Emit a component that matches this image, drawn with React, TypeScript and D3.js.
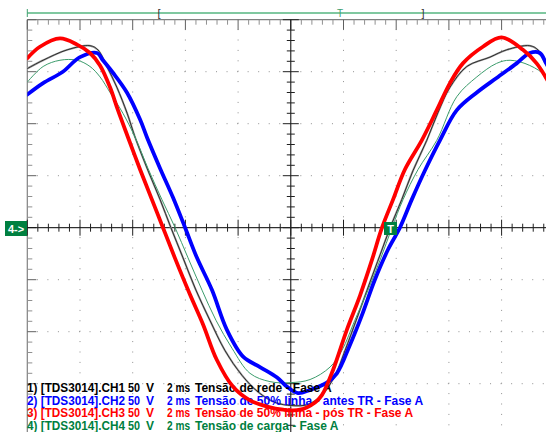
import React from 'react';
import * as d3 from 'd3';

const W = 546;
const H = 432;

// time (ms) and voltage (V), 2 ms/div, 50 V/div
const ch1T = [0, 0.6, 1.51, 2.38, 2.68, 3.02, 3.4, 3.79, 4.09, 4.58, 5.04, 5.45, 5.91, 6.4, 6.93, 7.5, 8.15, 8.76, 9.4, 10.04, 10.65, 11.18, 11.68, 12.06, 12.51, 13.01, 13.39, 13.77, 14.21, 14.64, 15.16, 15.59, 16.04, 16.68, 17.56, 18.19, 19.07, 19.38, 19.69, 20];
const ch1V = [153, 161, 171, 175, 171, 155, 135, 110, 87, 55, 27, 0, -29, -60, -89, -118, -142, -158, -168, -171, -170, -161, -142, -118, -87, -52, -26, 0, 27, 55, 84, 111, 135, 155, 164, 171, 175, 171, 158, 142];

const ch2T = [0, 0.6, 1.35, 2.0, 2.65, 2.87, 3.25, 3.78, 4.28, 4.54, 5.04, 5.53, 5.99, 6.44, 7.01, 7.57, 8.19, 8.83, 9.48, 9.86, 10.27, 10.73, 11.37, 11.75, 12.24, 12.7, 13.19, 13.69, 14.14, 14.59, 15.09, 15.66, 16.3, 17.06, 17.81, 18.57, 19.07, 19.45, 19.69, 20];
const ch2V = [128, 139, 150, 164, 168, 161, 149, 130, 104, 87, 57, 29, 0, -29, -60, -98, -124, -134, -144, -153, -159, -156, -149, -140, -113, -84, -50, -21, 0, 27, 55, 84, 113, 130, 144, 158, 168, 168, 158, 144];

const ch3T = [0, 0.48, 1.24, 1.89, 2.38, 2.76, 3.14, 3.44, 3.82, 4.28, 4.73, 5.15, 5.6, 6.17, 6.67, 7.19, 7.81, 8.45, 9.1, 9.71, 10.35, 10.92, 11.18, 11.6, 12.13, 12.63, 13.08, 13.46, 13.88, 14.33, 14.97, 15.54, 16.04, 16.53, 17.29, 18.0, 18.81, 19.33, 19.69, 20];
const ch3V = [163, 174, 182, 176, 168, 156, 135, 113, 87, 56, 27, 0, -29, -64, -93, -127, -153, -166, -172, -175, -175, -168, -161, -137, -98, -65, -31, 0, 27, 56, 84, 113, 139, 158, 174, 183, 171, 158, 144, 130];

const ch4T = [0, 0.6, 1.24, 1.89, 2.38, 2.76, 3.14, 3.63, 4.09, 4.58, 5.11, 5.61, 6.1, 6.63, 7.16, 7.77, 8.45, 9.21, 9.97, 10.73, 11.49, 11.94, 12.43, 12.93, 13.39, 13.84, 14.26, 14.83, 15.54, 16.3, 17.06, 17.81, 18.32, 19.07, 19.69, 20];
const ch4V = [140, 155, 161, 161, 155, 145, 130, 110, 87, 57, 27, 0, -29, -60, -89, -116, -140, -148, -149, -146, -134, -118, -89, -60, -31, 0, 27, 56, 84, 126, 145, 158, 161, 156, 145, 125];

const labelPrefix = ['1) [TDS3014].CH1', '2) [TDS3014].CH2', '3) [TDS3014].CH3', '4) [TDS3014].CH4'];
const labelDesc = [
  'Tensão de rede - Fase A',
  'Tensão de 50% linha - antes TR - Fase A',
  'Tensão de 50% linha - pós TR - Fase A',
  'Tensão de carga - Fase A',
];
const labelColors = ['#000000', '#0000ff', '#ff0000', '#008040'];

const x = d3.scaleLinear().domain([0, 20]).range([27.3, 554.3]);
const y = d3.scaleLinear().domain([-200, 200]).range([435.7, 19.7]);

function toPts(t: number[], v: number[]) {
  return t.map((d, i) => [d, v[i]] as [number, number]);
}

const line = d3
  .line<[number, number]>()
  .x(d => x(d[0]))
  .y(d => y(d[1]))
  .curve(d3.curveCatmullRom.alpha(0.5));

export default function App() {
  const minorT = d3.range(0, 20.001, 0.4);
  const majorT = d3.range(0, 20.001, 2);
  const minorV = d3.range(-200, 200.001, 10);
  const majorV = d3.range(-200, 200.001, 50);
  const x0 = x(0);
  const xc = x(10);
  const yc = y(0);
  const yTop = y(200);
  const font = 'Liberation Sans, Arial, sans-serif';

  return (
    <div style={{ position: 'absolute', left: 0, top: 0 }}>
      <svg width={W} height={H} style={{ display: 'block', background: '#fff' }}>
        <defs>
          <clipPath id="plot">
            <rect x={x0} y={yTop} width={W - x0} height={H - yTop} />
          </clipPath>
        </defs>

        {/* top marker bar */}
        <line x1={x0} x2={W} y1={13} y2={13} stroke="#80c8a0" strokeWidth={2} />
        <line x1={x0} x2={x0} y1={9} y2={17} stroke="#40a070" strokeWidth={1} />
        <text x={159} y={17} fontFamily={font} fontSize={11} fill="#333" textAnchor="middle">[</text>
        <text x={423} y={17} fontFamily={font} fontSize={11} fill="#333" textAnchor="middle">]</text>
        <text x={340} y={17} fontFamily={font} fontSize={10} fill="#40a070" textAnchor="middle">T</text>

        {/* dotted grid */}
        {majorT.slice(1).filter(t => t !== 10).map(t => (
          <line key={'gv' + t} x1={x(t)} x2={x(t)} y1={yTop} y2={H} stroke="#909090"
            strokeWidth={1} strokeDasharray="1,9.4" strokeDashoffset={-9.4} />
        ))}
        {majorV.filter(v => v !== 0 && v !== 200).map(v => (
          <line key={'gh' + v} x1={x0} x2={W} y1={y(v)} y2={y(v)} stroke="#909090"
            strokeWidth={1} strokeDasharray="1,9.54" strokeDashoffset={-9.54} />
        ))}

        {/* frame */}
        <line x1={x0} x2={W} y1={yTop} y2={yTop} stroke="#808080" strokeWidth={1.2} />
        <line x1={x0} x2={x0} y1={yTop} y2={H} stroke="#808080" strokeWidth={1.2} />
        {minorT.map(t => {
          const major = Math.abs(t / 2 - Math.round(t / 2)) < 1e-6;
          return (
            <line key={'tt' + t} x1={x(t)} x2={x(t)} y1={yTop} y2={yTop + (major ? 10 : 5)}
              stroke={major ? '#606060' : '#909090'} strokeWidth={1} />
          );
        })}
        {minorV.map(v => {
          const major = v % 50 === 0;
          return (
            <line key={'lt' + v} x1={x0} x2={x0 + (major ? 9 : 5)} y1={y(v)} y2={y(v)}
              stroke={major ? '#606060' : '#909090'} strokeWidth={1} />
          );
        })}

        {/* center axes */}
        <line x1={xc} x2={xc} y1={yTop} y2={H} stroke="#000" strokeWidth={1} />
        <line x1={x0} x2={W} y1={yc} y2={yc} stroke="#000" strokeWidth={1} />
        {minorV.map(v => {
          const major = v % 50 === 0;
          return (
            <line key={'cv' + v} x1={xc - (major ? 8 : 4)} x2={xc + (major ? 8 : 4)} y1={y(v)} y2={y(v)}
              stroke="#202020" strokeWidth={1} />
          );
        })}
        {minorT.map(t => {
          const major = Math.abs(t / 2 - Math.round(t / 2)) < 1e-6;
          return (
            <line key={'ch' + t} x1={x(t)} x2={x(t)} y1={yc - (major ? 8 : 4)} y2={yc + (major ? 8 : 4)}
              stroke="#202020" strokeWidth={1} />
          );
        })}

        {/* traces */}
        <g clipPath="url(#plot)" fill="none" strokeLinejoin="round" strokeLinecap="round">
          <path d={line(toPts(ch1T, ch1V)) || ''} stroke="#a0a0a0" strokeWidth={2} />
          <path d={line(toPts(ch1T, ch1V)) || ''} stroke="#202020" strokeWidth={0.9} />
          <path d={line(toPts(ch4T, ch4V)) || ''} stroke="#3c9c6c" strokeWidth={1} />
          <path d={line(toPts(ch2T, ch2V)) || ''} stroke="#0000ff" strokeWidth={3.8} />
        </g>

        {/* channel labels */}
        {labelPrefix.map((p, i) => (
          <text key={p} y={392 + i * 12.5} fontFamily={font} fontSize={12} fontWeight="bold" fill={labelColors[i]}>
            <tspan x={27} textLength={98} lengthAdjust="spacingAndGlyphs">{p}</tspan>
            <tspan x={128} textLength={12} lengthAdjust="spacingAndGlyphs">50</tspan>
            <tspan x={146}>V</tspan>
            <tspan x={167} textLength={23} lengthAdjust="spacingAndGlyphs">2 ms</tspan>
            <tspan x={195}>{labelDesc[i]}</tspan>
          </text>
        ))}

        <g clipPath="url(#plot)" fill="none" strokeLinejoin="round" strokeLinecap="round">
          <path d={line(toPts(ch3T, ch3V)) || ''} stroke="#ff0000" strokeWidth={3.8} />
        </g>

        {/* ground marker for ch4 and trigger marker */}
        <rect x={5} y={221} width={22} height={15} fill="#008040" />
        <text x={16} y={232.5} fontFamily={font} fontSize={11} fontWeight="bold" fill="#fff" textAnchor="middle">4-&gt;</text>
        <rect x={384} y={222} width={13} height={13} fill="#008040" />
        <text x={390.5} y={233} fontFamily={font} fontSize={11} fontWeight="bold" fill="#fff" textAnchor="middle">T</text>
      </svg>
    </div>
  );
}
